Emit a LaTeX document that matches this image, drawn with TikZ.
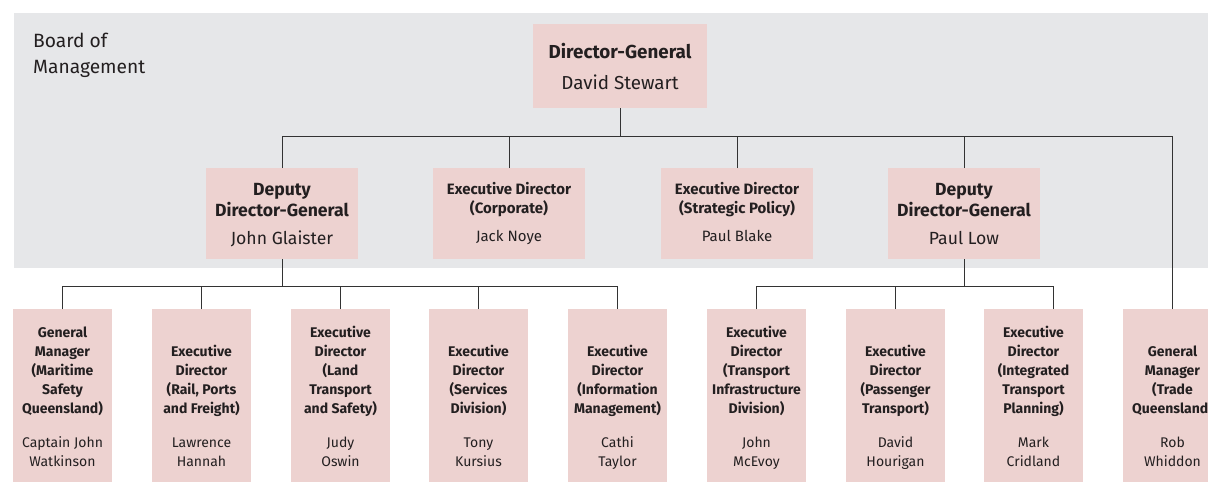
\documentclass[tikz,border=0pt]{standalone}
\usepackage{fontspec}
\setmainfont{Fira Sans}
\definecolor{panel}{HTML}{E6E7E9}
\definecolor{boxfill}{HTML}{EDD2D0}
\definecolor{ink}{HTML}{231F20}
\definecolor{wire}{HTML}{333333}
% centred stack whose baseline is that of its last line
\newcommand{\stk}[1]{\begin{tabular}[b]{@{}c@{}}#1\end{tabular}}
\newcommand{\stkl}[1]{\begin{tabular}[t]{@{}l@{}}#1\end{tabular}}

\begin{document}
\begin{tikzpicture}[x=1pt,y=-1pt,
  box/.style={fill=boxfill, draw=none, inner sep=0pt, outer sep=0pt},
  topbox/.style={box, minimum width=174pt, minimum height=84pt},
  midbox/.style={box, minimum width=152pt, minimum height=91pt},
  lowbox/.style={box, minimum width=99pt, minimum height=175pt},
  link/.style={draw=wire, line width=1pt},
  txt/.style={anchor=base, inner sep=0pt, text=ink},
  dgtext/.style={txt, font=\fontsize{18.8}{31}\selectfont},
  deptext/.style={txt, font=\fontsize{17.6}{21}\selectfont},
  exectext/.style={txt, font=\fontsize{15}{19}\selectfont},
  lowtitle/.style={txt, font=\fontsize{14}{19}\selectfont\bfseries},
  lowname/.style={txt, font=\fontsize{14}{19}\selectfont},
]
\useasboundingbox (0,0) rectangle (1208,482);
\clip (0,0) rectangle (1208,482);

% grey band of the Board of Management
\fill[panel] (14,13) rectangle (1212,268);
\node[txt, anchor=base west, font=\fontsize{19.2}{26}\selectfont] (board) at (33,47)
  {\stkl{Board of\\Management}};

% Director-General
\node[topbox] (dg) at (620,66) {};
\node[dgtext] (dgt) at (620,89) {\stk{\bfseries Director-General\\David Stewart}};

% second level
\node[midbox] (d1) at (282,213.5) {};
\node[midbox] (ec) at (509,213.5) {};
\node[midbox] (sp) at (737,213.5) {};
\node[midbox] (d2) at (964,213.5) {};
\node[deptext] (d1t) at (282,244) {\stk{\bfseries Deputy\\\bfseries Director-General\\[7pt]John Glaister}};
\node[exectext] (ect) at (509,241) {\stk{\bfseries Executive Director\\\bfseries (Corporate)\\[9pt]Jack Noye}};
\node[exectext] (spt) at (737,241) {\stk{\bfseries Executive Director\\\bfseries (Strategic Policy)\\[9pt]Paul Blake}};
\node[deptext] (d2t) at (964,244) {\stk{\bfseries Deputy\\\bfseries Director-General\\[7pt]Paul Low}};

% third level
\foreach \n/\x in {m1/62.5, m2/201.5, m3/340.5, m4/478.5, m5/617.5,
                   m6/756.5, m7/895.5, m8/1033.5, m9/1172.5}
  \node[lowbox] (\n) at (\x,396.5) {};

\node[lowtitle] (m1t) at (m1.center |- 0,413) {\stk{General\\Manager\\(Maritime\\Safety\\Queensland)}};
\node[lowname]  (m1n) at (m1.center |- 0,466) {\stk{Captain John\\Watkinson}};
\node[lowtitle] (m2t) at (m2.center |- 0,413) {\stk{Executive\\Director\\(Rail, Ports\\and Freight)}};
\node[lowname]  (m2n) at (m2.center |- 0,466) {\stk{Lawrence\\Hannah}};
\node[lowtitle] (m3t) at (m3.center |- 0,413) {\stk{Executive\\Director\\(Land\\Transport\\and Safety)}};
\node[lowname]  (m3n) at (m3.center |- 0,466) {\stk{Judy\\Oswin}};
\node[lowtitle] (m4t) at (m4.center |- 0,413) {\stk{Executive\\Director\\(Services\\Division)}};
\node[lowname]  (m4n) at (m4.center |- 0,466) {\stk{Tony\\Kursius}};
\node[lowtitle] (m5t) at (m5.center |- 0,413) {\stk{Executive\\Director\\(Information\\Management)}};
\node[lowname]  (m5n) at (m5.center |- 0,466) {\stk{Cathi\\Taylor}};
\node[lowtitle] (m6t) at (m6.center |- 0,413) {\stk{Executive\\Director\\(Transport\\Infrastructure\\Division)}};
\node[lowname]  (m6n) at (m6.center |- 0,466) {\stk{John\\McEvoy}};
\node[lowtitle] (m7t) at (m7.center |- 0,413) {\stk{Executive\\Director\\(Passenger\\Transport)}};
\node[lowname]  (m7n) at (m7.center |- 0,466) {\stk{David\\Hourigan}};
\node[lowtitle] (m8t) at (m8.center |- 0,413) {\stk{Executive\\Director\\(Integrated\\Transport\\Planning)}};
\node[lowname]  (m8n) at (m8.center |- 0,466) {\stk{Mark\\Cridland}};
\node[lowtitle] (m9t) at (m9.center |- 0,413) {\stk{General\\Manager\\(Trade\\Queensland)}};
\node[lowname]  (m9n) at (m9.center |- 0,466) {\stk{Rob\\Whiddon}};

% connectors from the Director-General
\coordinate (bus1) at (620,136);
\draw[link] (dg.south) -- (bus1);
\draw[link] (d1.north) |- (bus1);
\draw[link] (m9.north) |- (bus1);
\draw[link] (ec.north) -- (ec.north |- bus1);
\draw[link] (sp.north) -- (sp.north |- bus1);
\draw[link] (d2.north) -- (d2.north |- bus1);

% connectors from the first Deputy Director-General
\coordinate (bus2) at (282,286);
\draw[link] (d1.south) -- (bus2);
\draw[link] (m1.north) |- (bus2);
\draw[link] (m5.north) |- (bus2);
\draw[link] (m2.north) -- (m2.north |- bus2);
\draw[link] (m3.north) -- (m3.north |- bus2);
\draw[link] (m4.north) -- (m4.north |- bus2);

% connectors from the second Deputy Director-General
\coordinate (bus3) at (964,286);
\draw[link] (d2.south) -- (bus3);
\draw[link] (m6.north) |- (bus3);
\draw[link] ([xshift=19.5pt]m8.north) |- (bus3);
\draw[link] (m7.north) -- (m7.north |- bus3);
\end{tikzpicture}
\end{document}
